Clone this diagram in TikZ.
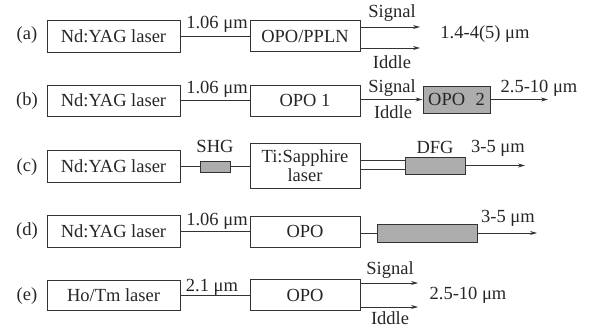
\documentclass[tikz,border=0pt]{standalone}
\usepackage{fontspec}
\setmainfont{Liberation Serif}
\usetikzlibrary{arrows.meta}
\begin{document}
\begin{tikzpicture}[x=1pt,y=-1pt,
  line width=0.8pt, draw=black!80, text=black!85,
  every node/.style={font=\fontsize{18.5}{20}\selectfont, inner sep=0pt},
  box/.style={draw, line width=0.9pt, minimum width=133pt, minimum height=32pt},
  opobox/.style={draw, line width=0.9pt, minimum width=110pt, minimum height=31pt},
  graybox/.style={draw, line width=0.9pt, fill=black!32},
  beam/.style={draw=black!80, line width=0.8pt},
  arr/.style={beam, -{Stealth[length=7pt,width=4pt]}},
  lbl/.style={}
]
\useasboundingbox (0,0) rectangle (591,328);

% ---------- (a)
\node (la) at (27,35) {(a)};
\node[box] (lasa) at (113.5,36) {Nd:YAG laser};
\node[opobox] (opoa) at (305,36) {OPO/PPLN};
\draw[beam] (lasa.east) -- (opoa.west);
\node (wa) at (217,24) {1.06 μm};
\coordinate (asig) at (420,27);
\coordinate (aidl) at (420,48);
\draw[arr] (opoa.east |- asig) -- (asig);
\draw[arr] (opoa.east |- aidl) -- (aidl);
\node (siga) at (392,13) {Signal};
\node (idla) at (392,62) {Iddle};
\node (outa) at (485,34) {1.4-4(5) μm};

% ---------- (b)
\node (lb) at (27,101) {(b)};
\node[box, minimum height=31pt] (lasb) at (113.5,100.5) {Nd:YAG laser};
\node[opobox] (opob) at (305,100.5) {OPO 1};
\draw[beam] (lasb.east) -- (opob.west);
\node (wb) at (217,89) {1.06 μm};
\node[graybox, minimum width=67pt, minimum height=27pt] (opo2) at (456.5,99.5) {OPO\;\;2};
\draw[arr] (opob.east |- opo2.west) -- (opo2.west);
\node (sigb) at (392,88) {Signal};
\node (idlb) at (393,112) {Iddle};
\coordinate (bout) at (548,99.5);
\draw[arr] (opo2.east) -- (bout);
\node (outb) at (539,88) {2.5-10 μm};

% ---------- (c)
\node (lc) at (27,167) {(c)};
\node[box] (lasc) at (113.5,166.5) {Nd:YAG laser};
\node[graybox, minimum width=30pt, minimum height=11pt] (shg) at (215,166.5) {};
\node (shgl) at (215,146) {SHG};
\node[opobox, minimum height=45pt, align=center] (ti) at (305,165.5) {Ti:Sapphire\\[-1pt]laser};
\draw[beam] (lasc.east) -- (shg.west);
\draw[beam] (shg.east) -- (ti.west |- shg.east);
\node[graybox, minimum width=60pt, minimum height=17pt] (dfg) at (435,165.5) {};
\node (dfgl) at (435,147) {DFG};
\draw[beam] ([yshift=-3.5pt]ti.east |- dfg.west) -- ([yshift=-3.5pt]dfg.west);
\draw[beam] ([yshift=5pt]ti.east |- dfg.west) -- ([yshift=5pt]dfg.west);
\coordinate (cout) at (525,165.5);
\draw[arr] (dfg.east) -- (cout);
\node (outc) at (498,148) {3-5 μm};

% ---------- (d)
\node (ld) at (27,231) {(d)};
\node[box] (lasd) at (113.5,231.5) {Nd:YAG laser};
\node[opobox] (opod) at (305,231.5) {OPO};
\draw[beam] (lasd.east) -- (opod.west);
\node (wd) at (217,221) {1.06 μm};
\node[graybox, minimum width=100pt, minimum height=18pt] (crd) at (427,233) {};
\draw[beam] (opod.east |- crd.west) -- (crd.west);
\coordinate (dout) at (537,233);
\draw[arr] (crd.east) -- (dout);
\node (outd) at (508,218) {3-5 μm};

% ---------- (e)
\node (le) at (27,296) {(e)};
\node[box, minimum height=30pt] (lase) at (113.5,295) {Ho/Tm laser};
\node[opobox] (opoe) at (305,295) {OPO};
\draw[beam] (lase.east) -- (opoe.west);
\node (we) at (212,287) {2.1 μm};
\coordinate (esig) at (418,283);
\coordinate (eidl) at (418,307);
\draw[arr] (opoe.east |- esig) -- (esig);
\draw[arr] (opoe.east |- eidl) -- (eidl);
\node (sige) at (390,270) {Signal};
\node (idle) at (390,318) {Iddle};
\node (oute) at (468,295) {2.5-10 μm};
\end{tikzpicture}
\end{document}
